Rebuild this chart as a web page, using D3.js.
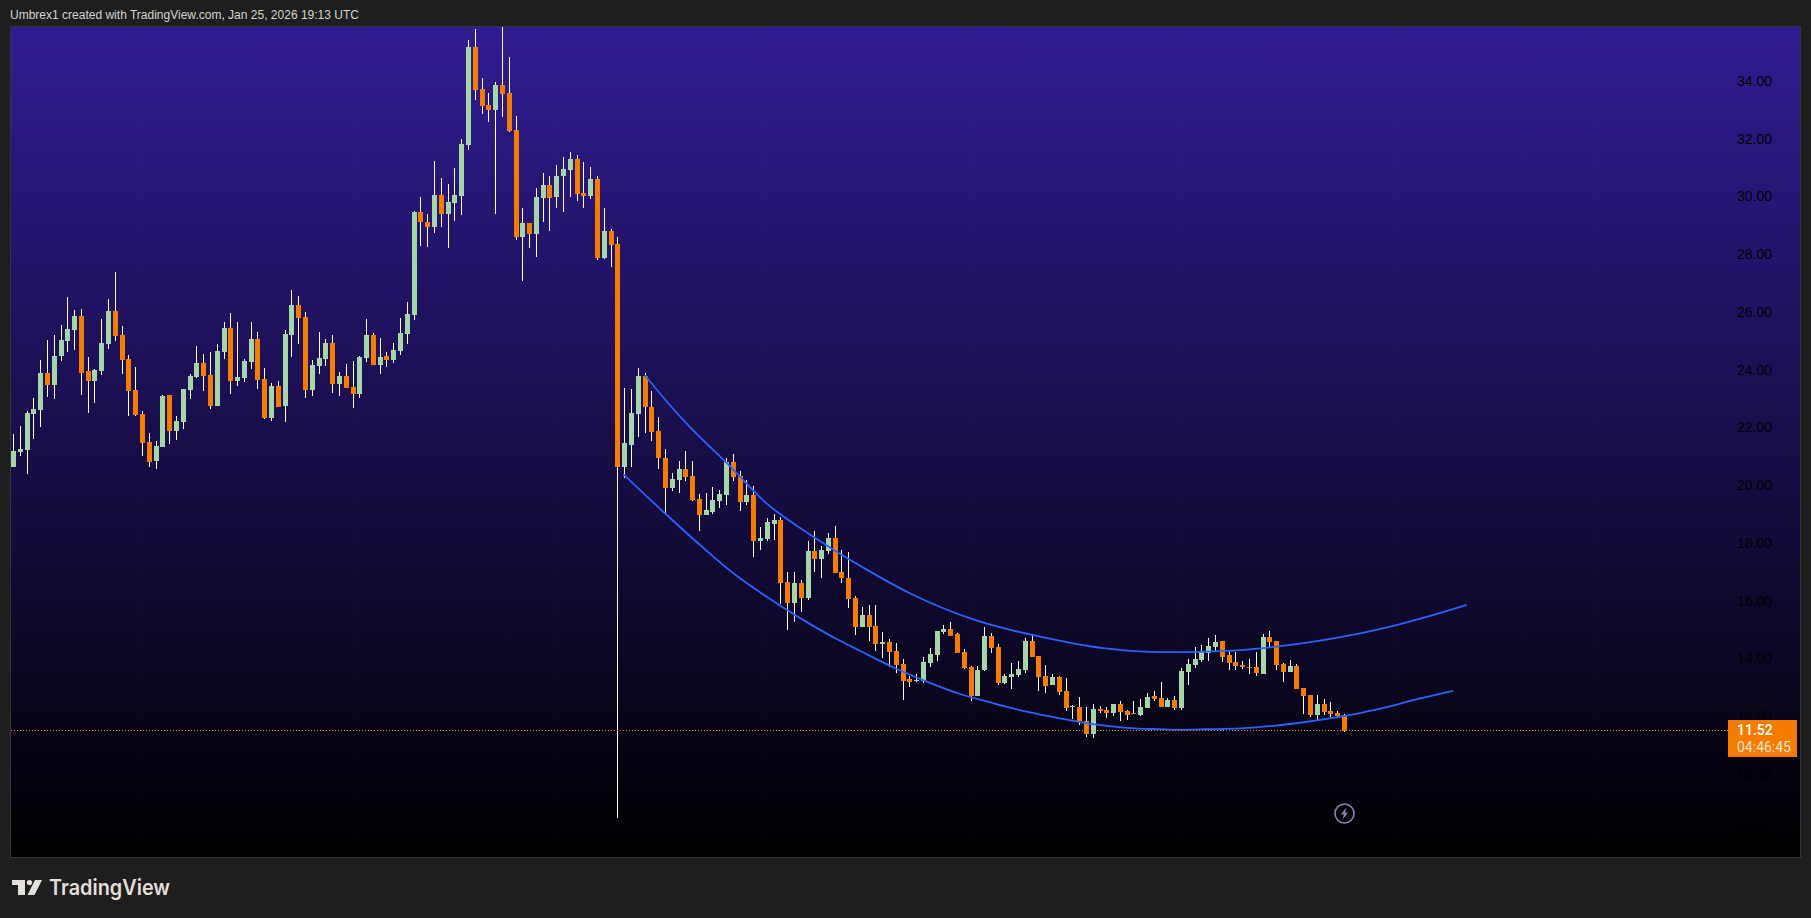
<!DOCTYPE html>
<html>
<head>
<meta charset="utf-8">
<script src="https://cdn.jsdelivr.net/npm/d3@7/dist/d3.min.js"></script>
<style>
html,body{margin:0;padding:0;background:#1e1e1e;overflow:hidden}
svg{display:block}
</style>
</head>
<body>
<script>
const opens = [
20.63,21.15,21.22,22.47,22.60,23.89,23.47,24.48,25.00,25.38,
25.86,23.96,23.61,23.96,24.89,26.03,25.20,24.37,23.30,22.47,
21.50,20.84,21.32,23.12,21.88,22.19,23.30,23.75,24.23,23.82,
22.74,24.61,25.45,23.61,23.71,24.27,25.06,23.68,22.33,23.44,
22.74,25.20,26.24,25.83,23.30,24.13,24.37,24.92,23.50,23.78,
23.40,23.15,24.40,25.20,24.16,24.47,24.33,24.64,25.23,25.89,
29.46,29.11,28.94,30.05,29.39,29.77,30.01,31.78,35.17,33.72,
33.17,32.99,33.86,33.58,32.30,28.59,29.08,28.70,29.94,30.39,
29.98,30.71,30.91,31.30,30.12,30.01,30.60,27.87,28.80,28.35,
20.63,21.40,22.47,23.79,22.71,21.88,20.95,19.91,20.18,20.56,
20.32,19.52,18.97,19.07,19.46,19.66,20.81,20.32,19.42,19.66,
18.07,18.14,18.66,18.80,16.65,15.92,16.61,16.10,17.72,17.45,
17.72,18.17,17.00,16.79,16.10,15.09,15.51,15.13,14.50,14.57,
14.26,13.81,13.29,13.22,13.22,13.85,14.12,14.92,15.02,14.85,
14.23,13.71,12.70,13.60,14.78,14.40,13.15,13.36,13.43,13.60,
14.61,14.09,13.39,13.08,13.36,12.88,12.32,12.32,11.84,11.39,
12.25,12.22,12.11,12.42,12.18,12.11,12.04,12.29,12.70,12.64,
12.32,12.57,12.29,13.54,13.78,13.95,14.19,14.40,14.61,14.12,
13.88,13.78,13.71,13.71,13.47,14.75,14.61,13.81,13.54,13.74,
12.98,12.74,12.05,12.43,12.19,12.12,12.05];
const closes = [
21.18,21.25,22.50,22.64,23.89,23.47,24.48,25.03,25.41,25.86,
23.89,23.61,23.99,24.93,26.03,25.17,24.34,23.26,22.43,21.46,
20.80,21.36,23.09,21.88,22.22,23.33,23.78,24.23,23.78,22.74,
24.65,25.45,23.61,23.75,24.30,25.06,23.64,22.33,23.44,22.71,
25.24,26.24,25.79,23.30,24.16,24.41,24.92,23.50,23.78,23.36,
23.15,24.44,25.20,24.16,24.44,24.33,24.68,25.27,25.93,29.46,
29.11,28.94,30.05,29.39,29.81,30.05,31.81,35.17,33.69,33.13,
32.99,33.86,33.55,32.26,28.59,29.08,28.70,29.98,30.39,29.94,
30.71,30.95,31.30,30.08,30.01,30.60,27.87,28.80,28.32,20.63,
21.47,22.50,23.79,22.71,21.85,20.95,19.91,20.22,20.56,20.29,
19.49,18.97,19.14,19.49,19.70,20.81,20.29,19.42,19.66,18.07,
18.17,18.73,18.80,16.61,15.92,16.61,16.10,17.72,17.45,17.76,
18.17,16.96,16.79,16.06,15.09,15.51,15.09,14.50,14.57,14.23,
13.78,13.22,13.19,13.26,13.88,14.16,14.95,15.02,14.78,14.19,
13.67,12.70,13.60,14.78,14.36,13.15,13.39,13.46,13.64,14.61,
14.05,13.36,13.05,13.36,12.84,12.29,12.35,11.84,11.39,12.25,
12.18,12.11,12.42,12.15,12.04,12.08,12.32,12.67,12.60,12.32,
12.57,12.29,13.57,13.81,13.99,14.23,14.44,14.58,14.06,13.85,
13.74,13.71,13.67,13.50,14.75,14.58,13.78,13.54,13.74,12.95,
12.70,12.05,12.43,12.15,12.08,12.01,11.50];
const highs = [
21.77,22.05,22.57,23.02,24.34,25.03,25.20,25.55,26.52,26.07,
26.10,24.44,24.02,25.75,26.45,27.39,25.51,24.51,24.09,22.57,
21.81,21.53,23.12,23.12,22.40,23.33,23.85,24.82,24.54,24.61,
24.89,25.65,25.96,25.65,24.37,25.65,25.31,24.06,23.54,23.61,
25.38,26.76,26.55,26.00,24.34,25.31,25.06,25.20,23.92,24.19,
24.30,24.47,25.75,25.27,25.09,24.61,24.92,25.79,26.34,29.49,
29.98,29.39,31.23,30.64,30.43,30.98,31.99,35.42,35.80,34.10,
33.58,33.96,36.50,34.83,32.78,29.60,29.08,30.29,30.81,30.71,
31.09,31.36,31.54,31.43,31.19,31.02,30.71,29.60,28.87,28.59,
23.37,23.34,24.06,23.89,23.27,22.37,21.26,20.43,20.84,21.19,
20.84,19.70,19.73,19.94,19.84,20.95,21.08,20.49,20.18,19.97,
18.55,18.85,19.00,18.90,17.00,17.00,16.72,18.07,18.42,17.90,
18.35,18.59,17.76,17.69,16.16,15.78,15.85,15.85,14.92,14.66,
14.54,13.98,13.39,13.46,14.05,14.36,14.95,15.16,15.27,14.88,
14.33,13.74,13.74,15.09,14.88,14.50,13.46,13.84,13.91,14.71,
14.81,14.09,13.78,13.46,13.39,13.33,12.39,12.67,12.32,12.42,
12.35,12.32,12.42,12.53,12.22,12.53,12.60,12.81,12.87,13.19,
12.64,12.70,13.66,13.99,14.40,14.47,14.71,14.82,14.61,14.23,
14.23,13.92,13.99,14.23,14.85,14.96,14.61,13.85,13.95,13.81,
12.98,12.74,12.74,12.60,12.50,12.19,12.08];
const lows = [
20.63,21.01,20.39,21.60,22.02,23.05,22.99,24.30,24.61,24.68,
23.12,22.50,22.85,23.82,24.72,25.00,23.85,22.40,22.40,21.01,
20.63,20.56,21.32,21.43,21.57,21.95,22.99,23.71,23.26,22.64,
22.74,24.37,23.16,23.44,23.57,24.03,23.33,22.29,22.22,22.71,
22.19,24.44,24.89,23.02,23.09,23.85,24.13,23.19,23.08,23.36,
22.67,23.01,24.26,24.16,23.85,24.09,24.23,24.50,24.89,25.72,
28.28,28.25,28.73,28.94,28.21,29.15,29.35,31.61,33.34,32.85,
32.58,29.39,32.75,32.23,28.49,27.07,28.21,27.90,29.11,28.80,
29.60,29.46,29.98,29.84,29.60,29.91,27.80,27.83,27.55,8.49,
20.25,20.63,21.67,21.81,21.53,20.56,19.01,19.80,19.73,20.15,
19.46,18.42,18.97,19.01,19.21,19.32,20.15,19.11,19.32,17.52,
17.76,18.07,18.10,15.89,14.99,15.26,15.61,16.03,17.00,16.79,
17.62,16.96,16.61,15.75,14.81,15.09,14.61,14.26,14.02,13.71,
13.50,12.56,13.01,13.19,13.15,13.71,13.91,14.85,14.78,14.19,
13.64,12.53,12.70,13.57,14.19,13.08,13.12,12.94,13.36,13.50,
14.05,12.87,12.81,13.08,12.74,12.18,11.90,11.70,11.28,11.25,
12.11,11.94,12.01,11.84,11.87,12.08,12.01,12.29,12.53,12.32,
12.32,12.22,12.22,13.09,13.67,13.88,13.92,14.23,13.88,13.60,
13.60,13.64,13.47,13.40,13.47,14.40,13.60,13.19,13.54,12.95,
12.08,11.98,11.87,12.05,11.98,11.98,11.46];

const upperCurve = [[93,23.8],[96.2,22.90],[99.9,21.94],[105.1,20.76],[110.9,19.37],[115.9,18.51],[120.8,17.76],[125.7,17.07],[132,16.26],[136.9,15.74],[141.9,15.31],[146.8,14.99],[151.7,14.73],[156.6,14.50],[161.5,14.33],[166.4,14.24],[170.8,14.22],[175.8,14.24],[180.7,14.29],[185.6,14.40],[190.5,14.55],[195.4,14.74],[198.3,14.87],[202.7,15.10],[208.2,15.45],[214,15.86]];
const lowerCurve = [[89.8,20.38],[96.2,18.97],[101.1,17.93],[106,16.95],[110.9,16.14],[115.9,15.39],[121.5,14.64],[124.7,14.26],[129.6,13.69],[134.5,13.20],[139.4,12.77],[144.3,12.45],[149.2,12.16],[154.1,11.93],[159,11.73],[163.9,11.60],[168.9,11.55],[172,11.53],[175.8,11.55],[180.7,11.58],[185.6,11.67],[190.5,11.81],[195.4,11.99],[200.8,12.24],[206.7,12.59],[212,12.88]];

const priceTicks = [34,32,30,28,26,24,22,20,18,16,14,12,10,8];
const gridBars = [19,50,80,111,141,172,203,233];
const lastPrice = 11.52;
const lastPriceLabel = "11.52";
const countdownLabel = "04:46:45";
const headerText = "Umbrex1 created with TradingView.com, Jan 25, 2026 19:13 UTC";
const brandText = "TradingView";

const W = 1811, H = 918;
const panel = {l:11, t:27, r:1800, b:857};
const x = d3.scaleLinear().domain([0,196]).range([13.5,1344.5]);
const y = d3.scaleLinear().domain([34,14]).range([81,658.5]);

const svg = d3.select("body").append("svg").attr("width",W).attr("height",H);
const defs = svg.append("defs");
const grad = defs.append("linearGradient").attr("id","bg").attr("x1",0).attr("y1",0).attr("x2",0).attr("y2",1);
grad.append("stop").attr("offset","0%").attr("stop-color","#311b92");
grad.append("stop").attr("offset","100%").attr("stop-color","#000000");
defs.append("clipPath").attr("id","pc").append("rect")
  .attr("x",panel.l).attr("y",panel.t).attr("width",panel.r-panel.l).attr("height",panel.b-panel.t);

svg.append("rect").attr("width",W).attr("height",H).attr("fill","#1e1e1e");
svg.append("rect").attr("x",panel.l-0.5).attr("y",panel.t-0.5).attr("width",panel.r-panel.l+1).attr("height",panel.b-panel.t+1)
  .attr("fill","none").attr("stroke","#353535");
svg.append("rect").attr("x",panel.l).attr("y",panel.t).attr("width",panel.r-panel.l).attr("height",panel.b-panel.t)
  .attr("fill","url(#bg)");

const plot = svg.append("g").attr("clip-path","url(#pc)");

plot.append("g").selectAll("line").data(gridBars).join("line")
  .attr("x1",d=>Math.floor(x(d))+0.5).attr("x2",d=>Math.floor(x(d))+0.5)
  .attr("y1",panel.t).attr("y2",panel.b)
  .attr("stroke","rgba(150,150,170,0.1)").attr("stroke-dasharray","1 3");

const bars = opens.map((o,i)=>({i,o,c:closes[i],h:highs[i],l:lows[i]}));
const GREEN="#a5d6a7", ORANGE="#f57c00";

plot.append("g").selectAll("rect").data(bars).join("rect")
  .attr("shape-rendering","crispEdges")
  .attr("x",d=>Math.floor(x(d.i))).attr("width",1)
  .attr("y",d=>Math.round(y(d.h))).attr("height",d=>Math.max(1,Math.round(y(d.l))-Math.round(y(d.h))))
  .attr("fill","#ffffff");
plot.append("g").selectAll("rect").data(bars).join("rect")
  .attr("shape-rendering","crispEdges")
  .attr("x",d=>Math.floor(x(d.i))-2).attr("width",5)
  .attr("y",d=>Math.round(y(Math.max(d.o,d.c))))
  .attr("height",d=>Math.max(1,Math.round(y(Math.min(d.o,d.c)))-Math.round(y(Math.max(d.o,d.c)))))
  .attr("fill",d=>d.c>=d.o?GREEN:ORANGE);

const curve = d3.line().x(d=>x(d[0])).y(d=>y(d[1])).curve(d3.curveMonotoneX);
plot.append("g").selectAll("path").data([upperCurve,lowerCurve]).join("path")
  .attr("d",curve).attr("fill","none").attr("stroke","#2962ff").attr("stroke-width",1.8);

plot.append("line").attr("x1",panel.l).attr("x2",1728)
  .attr("y1",Math.round(y(lastPrice))+0.5).attr("y2",Math.round(y(lastPrice))+0.5)
  .attr("stroke",ORANGE).attr("stroke-width",1).attr("stroke-dasharray","1 2");

const axis = d3.axisRight(y).tickValues(priceTicks).tickSize(0).tickFormat(d3.format(".2f"));
const ag = svg.append("g").attr("transform","translate(1737,0)").call(axis);
ag.select(".domain").remove();
ag.selectAll("text").attr("x",0).attr("fill","#000000").attr("font-family","Liberation Sans").attr("font-size",14);

// last price label
const lp = svg.append("g");
lp.append("rect").attr("x",1728).attr("y",720).attr("width",69).attr("height",37).attr("fill",ORANGE);
lp.append("text").attr("x",1737).attr("y",735).text(lastPriceLabel)
  .attr("fill","#ffffff").attr("font-family","Roboto").attr("font-weight",500).attr("font-size",14);
lp.append("text").attr("x",1737).attr("y",752).text(countdownLabel)
  .attr("fill","#f3e4d4").attr("font-family","Roboto").attr("font-size",14);

// event icon
const ic = svg.append("g").attr("transform","translate(1344.5,813.5)");
ic.append("circle").attr("r",9.5).attr("fill","none").attr("stroke","#8f86b8").attr("stroke-width",1.6);
ic.append("path").attr("d","M1.8,-6 L-3.6,1 L-0.6,1 L-1.8,6 L3.6,-1 L0.6,-1 Z").attr("fill","#8f86b8");

// header
svg.append("text").attr("x",10).attr("y",19).text(headerText)
  .attr("fill","#d4d6d0").attr("font-family","Liberation Sans").attr("font-size",12)
  .attr("textLength",349).attr("lengthAdjust","spacing");

// brand
const logo = svg.append("g").attr("fill","#e3dfdb");
logo.append("path").attr("d","M12,880 H25 V895 H18 V885 H12 Z");
logo.append("circle").attr("cx",29.5).attr("cy",882.6).attr("r",2.7);
logo.append("path").attr("d","M35,880 H42 L34.5,895 H27.5 Z");
svg.append("text").attr("x",49).attr("y",895).text(brandText)
  .attr("fill","#e3dfdb").attr("font-family","Inter").attr("font-weight",600).attr("font-size",21)
  .attr("textLength",121).attr("lengthAdjust","spacingAndGlyphs");
</script>
</body>
</html>
